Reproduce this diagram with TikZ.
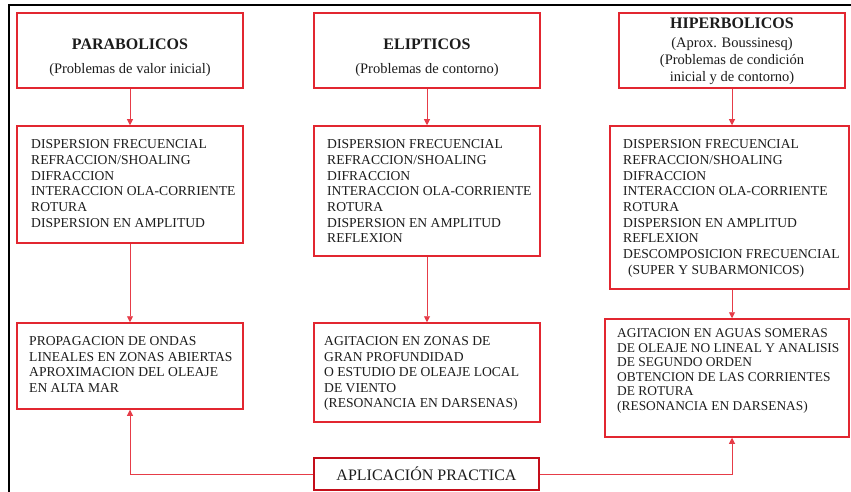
\documentclass[tikz,border=0pt]{standalone}
\usepackage{fontspec}
\setmainfont{Liberation Serif}
\usetikzlibrary{arrows.meta}
\definecolor{boxred}{RGB}{226,38,48}
\definecolor{linered}{RGB}{230,60,72}
\definecolor{appred}{RGB}{196,14,26}
\definecolor{txt}{RGB}{28,28,28}
\begin{document}
\begin{tikzpicture}[x=1pt,y=-1pt,
  box/.style={draw=boxred,line width=1.5pt,inner sep=0pt},
  appbox/.style={draw=appred,line width=2.2pt,text=txt,inner sep=0pt,font=\fontsize{16}{18}\selectfont},
  hdtext/.style={anchor=base,inner sep=0pt,text=txt,font=\fontsize{16}{18}\selectfont\bfseries},
  subtext/.style={anchor=base,inner sep=0pt,text=txt,font=\fontsize{14.5}{17}\selectfont},
  listtext/.style={anchor=north west,inner sep=0pt,align=left,text=txt,font=\fontsize{13.6}{15.7}\selectfont},
  conn/.style={draw=linered,line width=0.9pt,-{Triangle[length=6pt,width=6pt]}}
]
\useasboundingbox (0,0) rectangle (851,492);
\fill[white] (0,0) rectangle (851,492);
\draw[line width=2pt] (9,492) -- (9,5) -- (851,5);

% boxes
\node[box,minimum width=226pt,minimum height=75pt] (h1) at (130,50.5) {};
\node[box,minimum width=226pt,minimum height=75pt] (h2) at (427,50.5) {};
\node[box,minimum width=226pt,minimum height=75pt] (h3) at (732,50.5) {};
\node[box,minimum width=226pt,minimum height=117pt] (m1) at (130,184.5) {};
\node[box,minimum width=226pt,minimum height=130pt] (m2) at (427,191) {};
\node[box,minimum width=239pt,minimum height=163pt] (m3) at (729.5,207.5) {};
\node[box,minimum width=226pt,minimum height=86pt] (b1) at (130,366) {};
\node[box,minimum width=226pt,minimum height=99pt] (b2) at (427,372.5) {};
\node[box,minimum width=244pt,minimum height=118pt] (b3) at (727,378) {};
\node[appbox,minimum width=225pt,minimum height=32pt] (app) at (426.5,474) {APLICACIÓN PRACTICA};

% header texts
\node[hdtext] (h1t) at (130,50) {PARABOLICOS};
\node[subtext] (h1s) at (130,74) {(Problemas de valor inicial)};
\node[hdtext] (h2t) at (427,50) {ELIPTICOS};
\node[subtext] (h2s) at (427,74) {(Problemas de contorno)};
\node[hdtext] (h3t) at (732,29) {HIPERBOLICOS};
\node[subtext] (h3s1) at (732,47.5) {(Aprox. Boussinesq)};
\node[subtext] (h3s2) at (732,64.5) {(Problemas de condición};
\node[subtext] (h3s3) at (732,81.5) {inicial y de contorno)};

% list texts
\node[listtext] (m1t) at (31,139.5)
  {DISPERSION FRECUENCIAL\\ REFRACCION/SHOALING\\ DIFRACCION\\ INTERACCION OLA-CORRIENTE\\ ROTURA\\ DISPERSION EN AMPLITUD};
\node[listtext] (m2t) at (327,139.5)
  {DISPERSION FRECUENCIAL\\ REFRACCION/SHOALING\\ DIFRACCION\\ INTERACCION OLA-CORRIENTE\\ ROTURA\\ DISPERSION EN AMPLITUD\\ REFLEXION};
\node[listtext] (m3t) at (623,139.5)
  {DISPERSION FRECUENCIAL\\ REFRACCION/SHOALING\\ DIFRACCION\\ INTERACCION OLA-CORRIENTE\\ ROTURA\\ DISPERSION EN AMPLITUD\\ REFLEXION\\ DESCOMPOSICION FRECUENCIAL\\ \hspace*{5pt}(SUPER Y SUBARMONICOS)};
\node[listtext,font=\fontsize{13.6}{15.5}\selectfont] (b1t) at (29,336.5)
  {PROPAGACION DE ONDAS\\ LINEALES EN ZONAS ABIERTAS\\ APROXIMACION DEL OLEAJE\\ EN ALTA MAR};
\node[listtext,font=\fontsize{13.6}{15.5}\selectfont] (b2t) at (324,336.5)
  {AGITACION EN ZONAS DE\\ GRAN PROFUNDIDAD\\ O ESTUDIO DE OLEAJE LOCAL\\ DE VIENTO\\ (RESONANCIA EN DARSENAS)};
\node[listtext,font=\fontsize{13.4}{14.6}\selectfont] (b3t) at (617,328.5)
  {AGITACION EN AGUAS SOMERAS\\ DE OLEAJE NO LINEAL Y ANALISIS\\ DE SEGUNDO ORDEN\\ OBTENCION DE LAS CORRIENTES\\ DE ROTURA\\ (RESONANCIA EN DARSENAS)};

% connectors
\draw[conn] (h1.south) -- (m1.north);
\draw[conn] (m1.south) -- (b1.north);
\draw[conn] (h2.south) -- (m2.north);
\draw[conn] (m2.south) -- (b2.north);
\draw[conn] (h3.south) -- (h3.south |- m3.north);
\draw[conn] (h3.south |- m3.south) -- (h3.south |- b3.north);
\draw[conn] (app.west) -| (b1.south);
\draw[conn] (app.east) -| (h3.south |- b3.south);
\end{tikzpicture}
\end{document}
